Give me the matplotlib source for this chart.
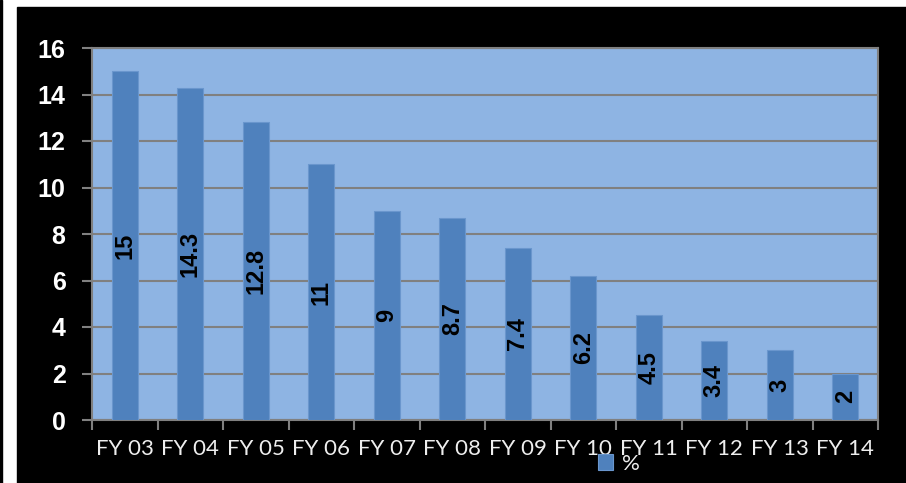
import matplotlib
matplotlib.use('Agg')
import matplotlib.pyplot as plt
from matplotlib.patches import Rectangle
import numpy as np

years = ['FY 03', 'FY 04', 'FY 05', 'FY 06', 'FY 07', 'FY 08',
         'FY 09', 'FY 10', 'FY 11', 'FY 12', 'FY 13', 'FY 14']
values = [15, 14.3, 12.8, 11, 9, 8.7, 7.4, 6.2, 4.5, 3.4, 3, 2]
labels = ['15', '14.3', '12.8', '11', '9', '8.7', '7.4', '6.2', '4.5', '3.4', '3', '2']
yticks = [0, 2, 4, 6, 8, 10, 12, 14, 16]

fig = plt.figure(figsize=(9.06, 4.83), dpi=100, facecolor='white')
# black backdrop like the slide
fig.patches.append(Rectangle((17/906, 0), 1 - 17/906, 1 - 7/483,
                             transform=fig.transFigure, color='black', zorder=-10))
fig.patches.append(Rectangle((0, 0), 2/906, 1,
                             transform=fig.transFigure, color='black', zorder=-10))

ax = fig.add_axes([92/906, 1 - 420/483, (878 - 92)/906, (420 - 48)/483])
ax.set_facecolor('#8EB4E3')

x = np.arange(len(years))
bars = ax.bar(x, values, width=0.4, color='#4F81BD', edgecolor='#6A96CD',
              linewidth=0.8, zorder=3, label='%')

for xi, v, lab in zip(x, values, labels):
    ax.text(xi, v / 2, lab, rotation=90, ha='center', va='center',
            fontsize=17, fontweight='bold', color='black',
            family='Liberation Sans', zorder=4)

ax.set_xlim(-0.5, len(years) - 0.5)
ax.set_ylim(0, 16)
ax.set_yticks(yticks)
ax.set_xticks(np.arange(len(years) + 1) - 0.5, minor=False)
ax.set_xticklabels([])
ax.set_xticks(x, minor=True)
ax.set_xticklabels(years, minor=True)
ax.tick_params(axis='x', which='minor', length=0, pad=14, labelsize=16,
               labelcolor='#EEEEEE')
ax.tick_params(axis='x', which='major', length=7, width=1.5, color='#808080')
ax.tick_params(axis='y', length=7, width=1.5, color='#808080', pad=12,
               labelsize=18, labelcolor='white')
for t in ax.get_yticklabels():
    t.set_fontweight('bold')
    t.set_family('Liberation Sans')
for t in ax.get_xticklabels(minor=True):
    t.set_family('Lato')

ax.grid(axis='y', color='#808080', linewidth=1.5, zorder=1)
for s in ax.spines.values():
    s.set_color('#808080')
    s.set_linewidth(1.5)

fig.legend(handles=[bars], labels=['%'], loc='center',
           bbox_to_anchor=(619/906, 1 - 464/483), frameon=False,
           prop={'family': 'Lato', 'size': 16}, labelcolor='#EEEEEE',
           handlelength=0.7, handleheight=0.7, handletextpad=0.4,
           borderpad=0)

fig.savefig('out.png', dpi=100, facecolor='white')
